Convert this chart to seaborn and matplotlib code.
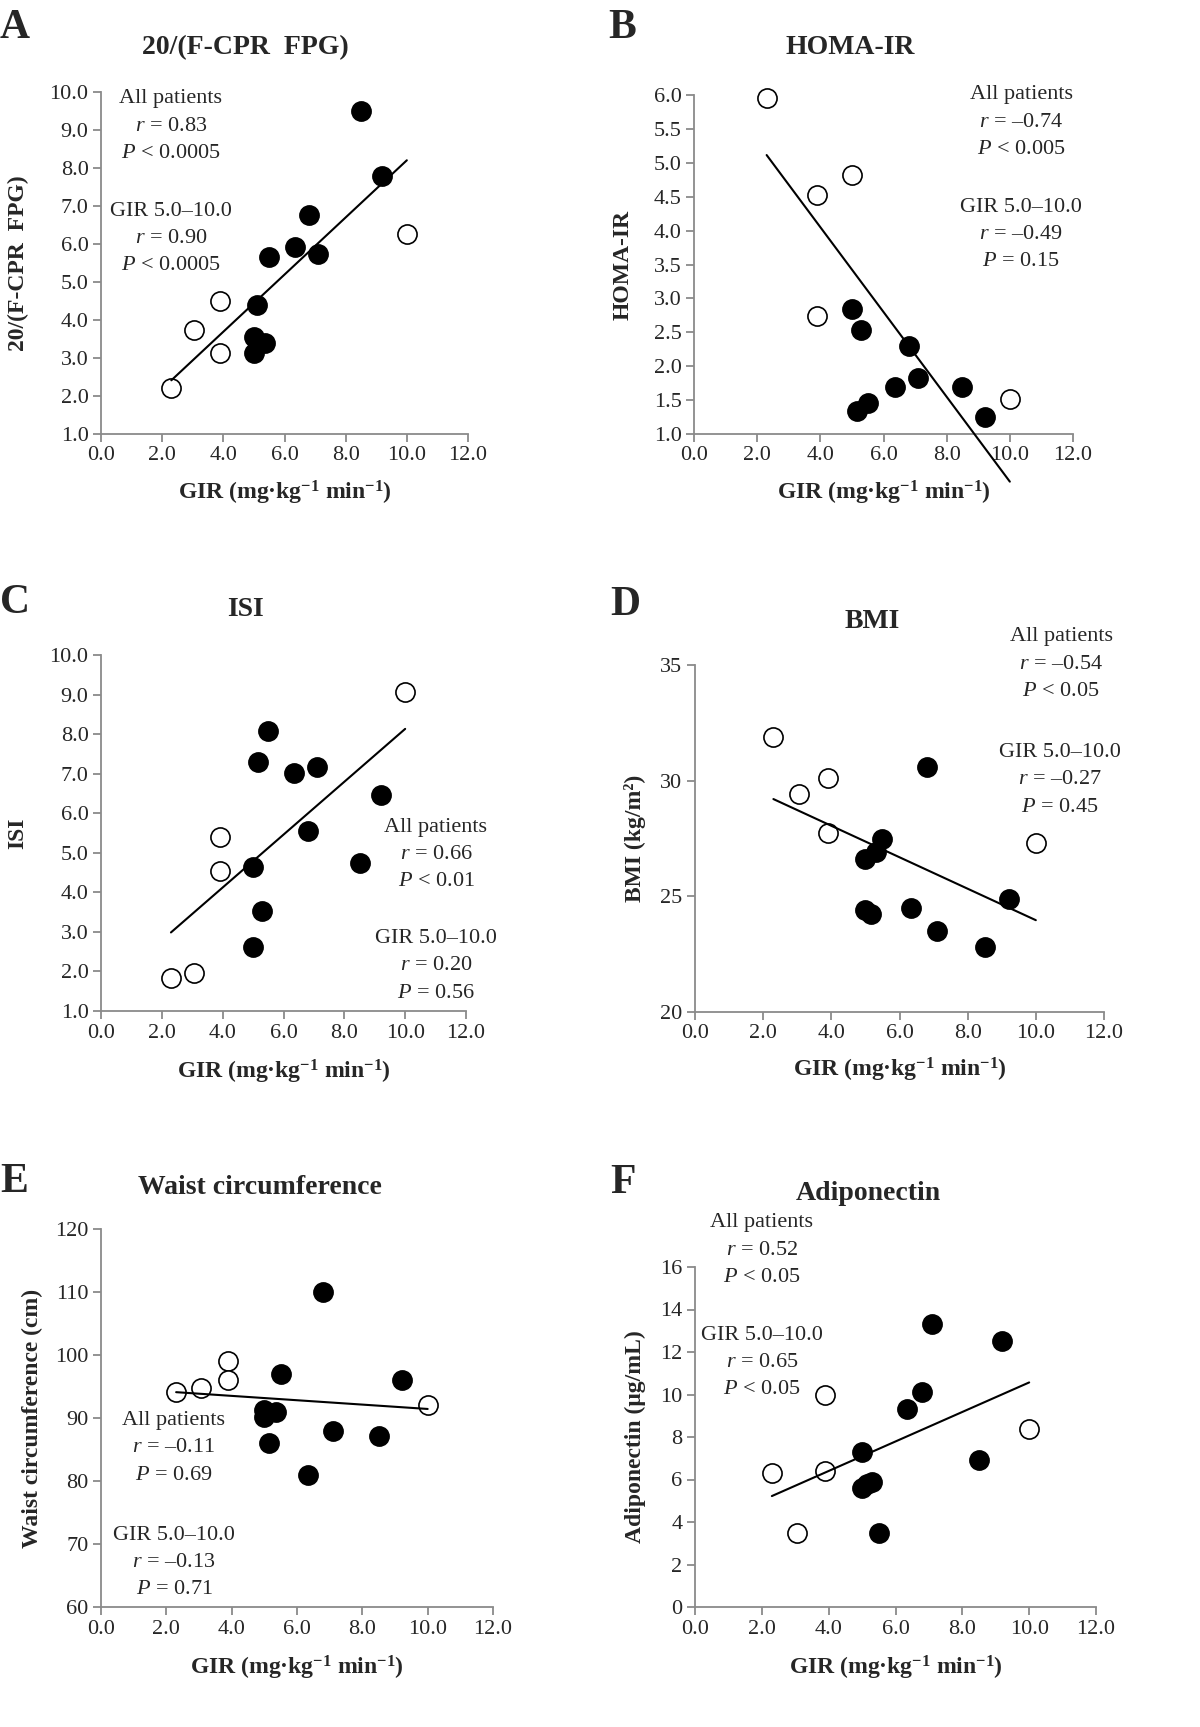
import numpy as np
import pandas as pd
import matplotlib
matplotlib.use('Agg')
import matplotlib.pyplot as plt
from matplotlib.transforms import Bbox, TransformedBbox
import seaborn as sns

sns.set_style('ticks')
plt.rcParams['font.family'] = ['Liberation Serif', 'DejaVu Serif']
plt.rcParams['mathtext.fontset'] = 'custom'
plt.rcParams['mathtext.rm'] = 'Liberation Serif'
plt.rcParams['mathtext.it'] = 'Liberation Serif:italic'
plt.rcParams['mathtext.bf'] = 'Liberation Serif:bold'

## data (1 = GIR 5.0-10.0 filled, 0 = open)
gir_a = [2.3, 3.05, 3.9, 3.9, 10.0, 8.5, 9.2, 6.8, 6.35, 7.1, 5.5, 5.1, 5.0, 5.35, 5.0]
val_a = [2.2, 3.75, 4.5, 3.12, 6.26, 9.5, 7.8, 6.77, 5.92, 5.75, 5.66, 4.4, 3.56, 3.4, 3.12]
grp_a = [0, 0, 0, 0, 0, 1, 1, 1, 1, 1, 1, 1, 1, 1, 1]

# the 3.05 patient sits above the 6.0 axis limit (off the chart, but in the fit)
gir_b = [2.3, 3.05, 3.9, 5.0, 3.9, 10.0, 5.0, 5.3, 6.8, 7.1, 6.35, 8.5, 5.5, 5.15, 9.2]
val_b = [5.95, 7.35, 4.52, 4.82, 2.74, 1.51, 2.85, 2.53, 2.3, 1.83, 1.7, 1.7, 1.45, 1.34, 1.25]
grp_b = [0, 0, 0, 0, 0, 0, 1, 1, 1, 1, 1, 1, 1, 1, 1]

gir_c = [10.0, 3.9, 3.9, 2.3, 3.05, 5.5, 5.15, 6.35, 7.1, 9.2, 6.8, 8.5, 5.0, 5.3, 5.0]
val_c = [9.06, 5.41, 4.54, 1.83, 1.97, 8.08, 7.3, 7.02, 7.16, 6.47, 5.54, 4.74, 4.65, 3.52, 2.62]
grp_c = [0, 0, 0, 0, 0, 1, 1, 1, 1, 1, 1, 1, 1, 1, 1]

gir_d = [2.3, 3.05, 3.9, 3.9, 10.0, 6.8, 5.5, 5.3, 5.0, 9.2, 6.35, 5.0, 5.15, 7.1, 8.5]
val_d = [31.9, 29.43, 30.1, 27.73, 27.3, 30.58, 27.47, 26.9, 26.61, 24.89, 24.49, 24.42, 24.23, 23.48, 22.81]
grp_d = [0, 0, 0, 0, 0, 1, 1, 1, 1, 1, 1, 1, 1, 1, 1]

gir_e = [2.3, 3.05, 3.9, 3.9, 10.0, 6.8, 5.5, 9.2, 5.0, 5.35, 5.0, 7.1, 8.5, 5.15, 6.35]
val_e = [94.1, 94.7, 99.0, 96.0, 92.0, 110.0, 97.0, 96.0, 91.3, 91.0, 90.1, 88.0, 87.1, 86.0, 81.0]
grp_e = [0, 0, 0, 0, 0, 1, 1, 1, 1, 1, 1, 1, 1, 1, 1]

gir_f = [3.9, 10.0, 2.3, 3.9, 3.05, 7.1, 9.2, 6.8, 6.35, 5.0, 8.5, 5.3, 5.15, 5.0, 5.5]
val_f = [10.0, 8.4, 6.3, 6.4, 3.5, 13.3, 12.5, 10.1, 9.3, 7.3, 6.9, 5.9, 5.8, 5.6, 3.5]
grp_f = [0, 0, 0, 0, 0, 1, 1, 1, 1, 1, 1, 1, 1, 1, 1]

W, H = 1200, 1727
fig = plt.figure(figsize=(12, 17.27), dpi=100)

def px(x, y):
    return x / W, 1 - y / H

def make_axes(left, top, right, bottom):
    return fig.add_axes([left / W, 1 - bottom / H, (right - left) / W, (bottom - top) / H])

xlab = 'GIR (mg·kg$^{\\mathbf{-1}}$ min$^{\\mathbf{-1}}$)'
gray = '#8a8a8a'

def panel(ax, gir, val, grp, ylim, ystep, yfmt, ylabel, ylab_x, xlab_y, clip=True):
    df = pd.DataFrame({'GIR': gir, 'val': val, 'grp': grp})
    sns.scatterplot(data=df[df.grp == 0], x='GIR', y='val', ax=ax, s=190,
                    color='white', edgecolor='black', linewidth=1.2, zorder=3, legend=False)
    sns.scatterplot(data=df[df.grp == 1], x='GIR', y='val', ax=ax, s=190,
                    color='black', edgecolor='black', linewidth=1.2, zorder=3, legend=False)
    # let markers sitting on the frame show whole, but still hide off-scale points
    box = TransformedBbox(Bbox([[-0.05, -0.05], [1.05, 1.05]]), ax.transAxes)
    for c in ax.collections:
        c.set_clip_box(box)
    sns.regplot(data=df, x='GIR', y='val', ax=ax, scatter=False, ci=None,
                line_kws={'color': 'black', 'lw': 1.5, 'zorder': 4, 'clip_on': clip})
    ax.set_xlim(0, 12)
    ax.set_ylim(*ylim)
    ax.set_xticks(np.arange(0, 12.1, 2))
    ax.set_xticklabels(['%.1f' % t for t in np.arange(0, 12.1, 2)])
    yt = np.arange(ylim[0], ylim[1] + ystep / 2, ystep)
    ax.set_yticks(yt)
    ax.set_yticklabels([yfmt % t for t in yt])
    ax.set_xlabel('')
    ax.set_ylabel('')
    sns.despine(ax=ax)
    for s in ['left', 'bottom']:
        ax.spines[s].set_color(gray)
        ax.spines[s].set_linewidth(1.3)
    ax.tick_params(direction='out', length=6, width=1.3, color=gray, labelsize=16, pad=3)
    # axis labels placed in figure pixels
    bb = ax.get_position()
    fig.text(ylab_x / W, (bb.y0 + bb.y1) / 2, ylabel, rotation=90, ha='center', va='center',
             fontsize=17, fontweight='bold')
    fig.text((bb.x0 + bb.x1) / 2, 1 - xlab_y / H, xlab, ha='center', va='center',
             fontsize=17, fontweight='bold')

def block(x, y0, lines, step=27.5):
    for i, t in enumerate(lines):
        fig.text(*px(x, y0 + i * step), t, ha='center', va='center', fontsize=16)

def heading(letter, lx, ly, title, tx, ty):
    fig.text(*px(lx, ly), letter, ha='left', va='center', fontsize=30, fontweight='bold')
    fig.text(*px(tx, ty), title, ha='center', va='center', fontsize=20, fontweight='bold')

# A
ax = make_axes(101, 92, 468, 434)
panel(ax, gir_a, val_a, grp_a, (1.0, 10.0), 1.0, '%.1f', '20/(F-CPR  FPG)', 18, 493)
heading('A', 0, 28, '20/(F-CPR  FPG)', 245, 48)
block(171, 99, ['All patients', '$r$ = 0.83', '$P$ < 0.0005'])
block(171, 211, ['GIR 5.0–10.0', '$r$ = 0.90', '$P$ < 0.0005'])

# B
ax = make_axes(694, 95, 1073, 434)
panel(ax, gir_b, val_b, grp_b, (1.0, 6.0), 0.5, '%.1f', 'HOMA-IR', 623, 493, clip=False)
heading('B', 608, 28, 'HOMA-IR', 850, 48)
block(1021, 95, ['All patients', '$r$ = –0.74', '$P$ < 0.005'])
block(1021, 207, ['GIR 5.0–10.0', '$r$ = –0.49', '$P$ = 0.15'])

# C
ax = make_axes(101, 655, 466, 1011)
panel(ax, gir_c, val_c, grp_c, (1.0, 10.0), 1.0, '%.1f', 'ISI', 18, 1072)
heading('C', 0, 603, 'ISI', 245, 610)
block(436, 827, ['All patients', '$r$ = 0.66', '$P$ < 0.01'])
block(436, 938, ['GIR 5.0–10.0', '$r$ = 0.20', '$P$ = 0.56'])

# D
ax = make_axes(695, 665, 1104, 1012)
panel(ax, gir_d, val_d, grp_d, (20, 35), 5, '%d', 'BMI (kg/m²)', 635, 1070)
heading('D', 610, 605, 'BMI', 872, 622)
block(1061, 637, ['All patients', '$r$ = –0.54', '$P$ < 0.05'])
block(1060, 752, ['GIR 5.0–10.0', '$r$ = –0.27', '$P$ = 0.45'])

# E
ax = make_axes(101, 1229, 493, 1607)
panel(ax, gir_e, val_e, grp_e, (60, 120), 10, '%d', 'Waist circumference (cm)', 32, 1668)
heading('E', 0, 1182, 'Waist circumference', 260, 1188)
block(174, 1420, ['All patients', '$r$ = –0.11', '$P$ = 0.69'])
block(174, 1535, ['GIR 5.0–10.0', '$r$ = –0.13', '$P$ = 0.71'])

# F
ax = make_axes(695, 1267, 1096, 1607)
panel(ax, gir_f, val_f, grp_f, (0, 16), 2, '%d', 'Adiponectin (μg/mL)', 635, 1668)
heading('F', 610, 1183, 'Adiponectin', 868, 1193)
block(762, 1223, ['All patients', '$r$ = 0.52', '$P$ < 0.05'])
block(762, 1335, ['GIR 5.0–10.0', '$r$ = 0.65', '$P$ < 0.05'])

fig.savefig('out.png', dpi=100, facecolor='white')
